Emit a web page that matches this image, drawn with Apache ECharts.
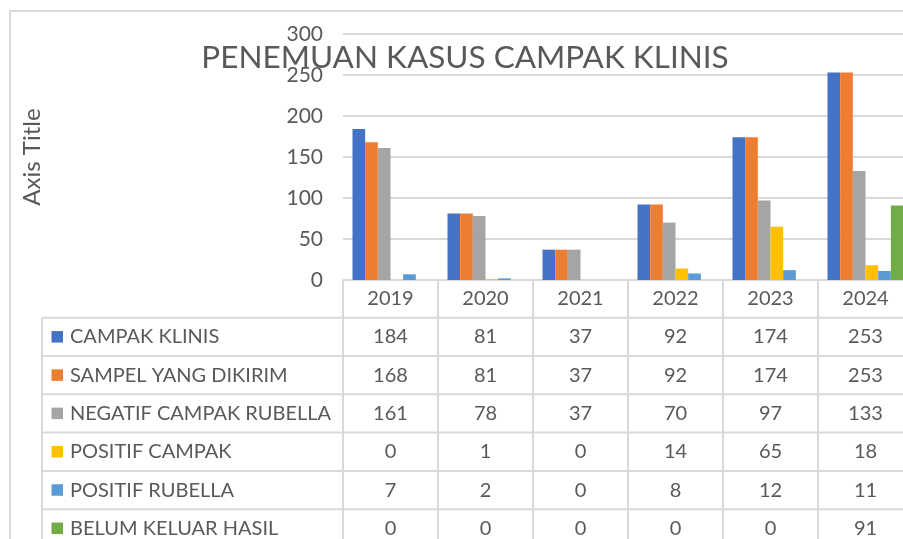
<!DOCTYPE html>
<html>
<head>
<meta charset="utf-8">
<script src="https://cdn.jsdelivr.net/npm/echarts@6/dist/echarts.min.js"></script>
<style>
  html, body { margin: 0; padding: 0; background: #fff; }
  #chart { width: 903px; height: 539px; }
</style>
</head>
<body>
<div id="chart"></div>
<script>
// Yearly measles surveillance counts
const years = ['2019', '2020', '2021', '2022', '2023', '2024'];
const seriesNames = ['CAMPAK KLINIS', 'SAMPEL YANG DIKIRIM', 'NEGATIF CAMPAK RUBELLA', 'POSITIF CAMPAK', 'POSITIF RUBELLA', 'BELUM KELUAR HASIL'];
const campakKlinis     = [184, 81, 37, 92, 174, 253];
const sampelDikirim    = [168, 81, 37, 92, 174, 253];
const negatifCampakRub = [161, 78, 37, 70, 97, 133];
const positifCampak    = [0, 1, 0, 14, 65, 18];
const positifRubella   = [7, 2, 0, 8, 12, 11];
const belumKeluarHasil = [0, 0, 0, 0, 0, 91];
const seriesValues = [campakKlinis, sampelDikirim, negatifCampakRub, positifCampak, positifRubella, belumKeluarHasil];
const colors = ['#4472C4', '#ED7D31', '#A5A5A5', '#FFC000', '#5B9BD5', '#70AD47'];
const yTicks = { min: 0, max: 300, interval: 50 };

const FONT = 'Lato';
const TEXT = '#595959';
const LINE = '#d9d9d9';

const chart = echarts.init(document.getElementById('chart'), null, { renderer: 'canvas' });

const option = {
  animation: false,
  backgroundColor: '#fff',
  textStyle: { fontFamily: FONT },
  title: {
    text: 'PENEMUAN KASUS CAMPAK KLINIS',
    left: 460, top: 37, textAlign: 'center',
    textStyle: { fontFamily: FONT, fontSize: 31.5, fontWeight: 'normal', color: TEXT }
  },
  // plot area runs a little past the right edge of the canvas
  grid: { left: 343, top: 34, width: 570, height: 246, outerBoundsMode: 'none', containLabel: false },
  xAxis: {
    type: 'category',
    data: years,
    axisLine: { lineStyle: { color: LINE, width: 2 } },
    axisTick: { show: true, length: 262, lineStyle: { color: LINE, width: 2 } },
    axisLabel: { margin: 9, fontFamily: FONT, fontSize: 20, color: TEXT }
  },
  yAxis: {
    type: 'value',
    min: yTicks.min, max: yTicks.max, interval: yTicks.interval,
    name: 'Axis Title',
    nameLocation: 'middle',
    nameRotate: 90,
    nameGap: 299,
    nameTextStyle: { fontFamily: FONT, fontSize: 24, color: TEXT },
    axisLine: { show: false },
    axisTick: { show: false },
    axisLabel: { margin: 20, fontFamily: FONT, fontSize: 21, color: TEXT },
    splitLine: { lineStyle: { color: LINE, width: 2 } }
  },
  series: seriesNames.map((name, i) => ({
    name: name,
    type: 'bar',
    data: seriesValues[i],
    barGap: '0%',
    barCategoryGap: '20%',
    itemStyle: { color: colors[i] }
  }))
};
chart.setOption(option);

// Data table below the axis: row lines, legend keys, and values per year column
const rowTop = 317.7;
const rowH = 38.3;
const tableLeft = 42;
const elements = [];
elements.push({
  type: 'line', silent: true,
  shape: { x1: tableLeft, y1: rowTop, x2: tableLeft, y2: 560 },
  style: { stroke: LINE, lineWidth: 2 }
});
for (let r = 0; r < seriesNames.length; r++) {
  const y0 = rowTop + r * rowH;
  const cy = y0 + rowH / 2;
  elements.push({
    type: 'line', silent: true,
    shape: { x1: tableLeft, y1: y0, x2: 903, y2: y0 },
    style: { stroke: LINE, lineWidth: 2 }
  });
  elements.push({
    type: 'rect', silent: true,
    shape: { x: 51.5, y: cy - 5.8, width: 11.5, height: 11.5 },
    style: { fill: colors[r] }
  });
  elements.push({
    type: 'text', silent: true,
    x: 70, y: cy,
    style: { text: seriesNames[r], fill: TEXT, font: '20px ' + FONT, textAlign: 'left', textVerticalAlign: 'middle' }
  });
  for (let c = 0; c < years.length; c++) {
    const px = chart.convertToPixel({ xAxisIndex: 0 }, c);
    elements.push({
      type: 'text', silent: true,
      x: px, y: cy,
      style: { text: String(seriesValues[r][c]), fill: TEXT, font: '20px ' + FONT, textAlign: 'center', textVerticalAlign: 'middle' }
    });
  }
}
// Outer chart frame
elements.push({
  type: 'polyline', silent: true,
  shape: { points: [[10, 560], [10, 11], [910, 11]] },
  style: { stroke: LINE, lineWidth: 2, fill: null }
});
chart.setOption({ graphic: { elements: elements } });
</script>
</body>
</html>
